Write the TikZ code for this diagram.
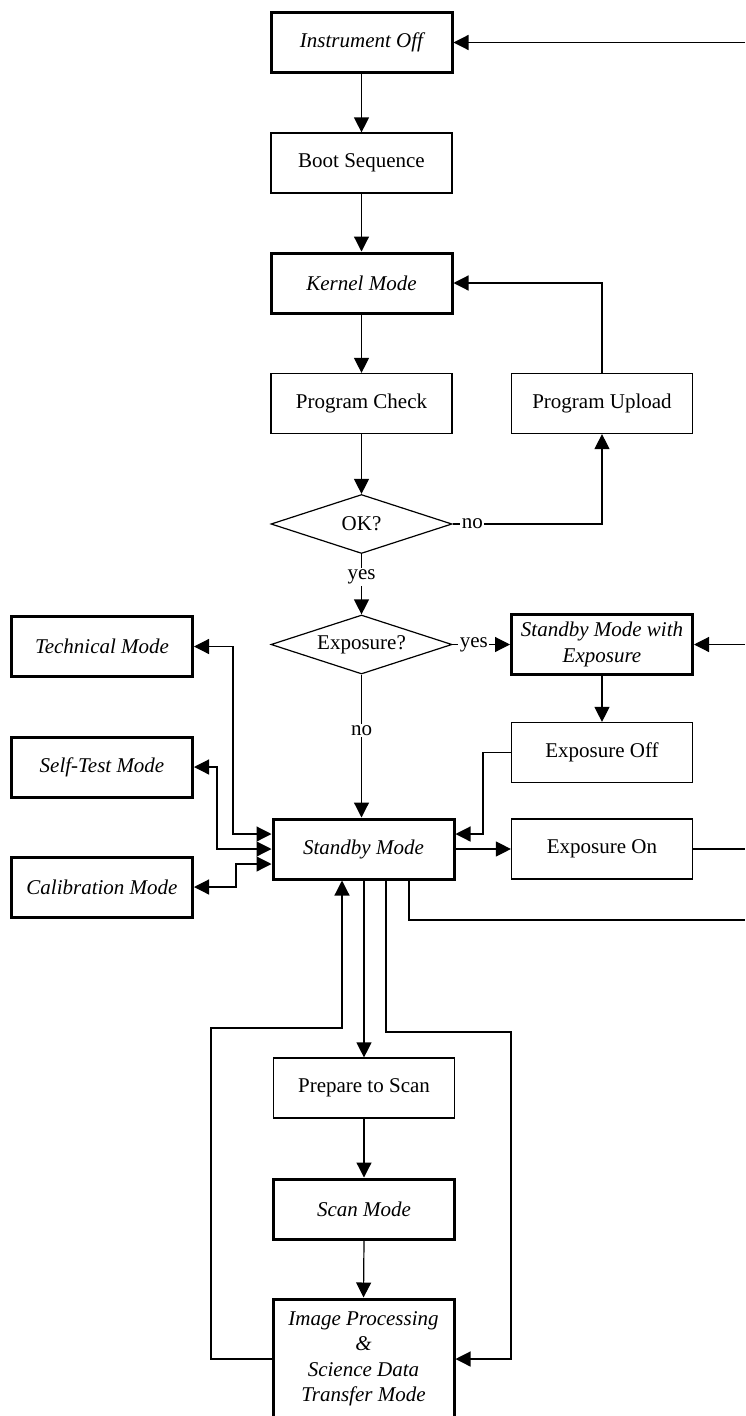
\documentclass[tikz,border=0pt]{standalone}
\usepackage{fontspec}
\setmainfont{Liberation Serif}
\usetikzlibrary{arrows.meta,shapes.geometric}
\begin{document}
\begin{tikzpicture}[x=1pt,y=-1pt,
  every node/.style={font=\fontsize{21}{25}\selectfont},
  box/.style={draw, line width=1.2pt, minimum width=181pt, minimum height=60pt, inner sep=0pt, align=center},
  mode/.style={box, line width=3pt, font=\fontsize{21}{25.5}\selectfont\itshape},
  dec/.style={draw, diamond, line width=1.2pt, minimum width=181pt, minimum height=59pt, inner sep=0pt},
  conn/.style={line width=1.2pt, -{Triangle[length=15pt,width=15pt]}},
  both/.style={line width=1.2pt, {Triangle[length=15pt,width=15pt]}-{Triangle[length=15pt,width=15pt]}},
  plain/.style={line width=1.2pt},
  lbl/.style={fill=white, inner sep=1.5pt}
]
\useasboundingbox (0,0) rectangle (745,1416);

% nodes
\node[mode] (off) at (361.5,42.5) {Instrument Off};
\node[box] (boot) at (361.5,163) {Boot Sequence};
\node[mode] (kernel) at (361.5,283) {Kernel Mode};
\node[box] (check) at (361.5,403.5) {Program Check};
\node[box] (upload) at (602,403.5) {Program Upload};
\node[dec] (ok) at (361.5,524) {\makebox[0pt]{OK?}};
\node[dec] (exp) at (361.5,644.5) {\makebox[0pt]{Exposure?}};
\node[mode] (sbe) at (602,644.5) {Standby Mode with\\Exposure};
\node[box] (eoff) at (602,752.5) {Exposure Off};
\node[box] (eon) at (602,849) {Exposure On};
\node[mode] (sb) at (363.5,849) {Standby Mode};
\node[mode] (tech) at (102,646.5) {Technical Mode};
\node[mode] (self) at (102,767) {Self-Test Mode};
\node[mode] (cal) at (102,887) {Calibration Mode};
\node[box] (prep) at (364,1088) {Prepare to Scan};
\node[mode] (scan) at (364,1209) {Scan Mode};
\node[mode, minimum height=120pt] (img) at (363.5,1359) {Image Processing\\\&\\Science Data\\Transfer Mode};

% helper coordinates
\coordinate (r1) at (745,42.5);
\coordinate (r2) at (745,644.5);
\coordinate (r3) at (745,849);
\coordinate (r4) at (745,920);
\coordinate (b1) at (409,920);
\coordinate (n1) at (602,524);
\coordinate (e1) at (483,752.5);
\coordinate (e2) at (483,834);
\coordinate (t1) at (233,834);
\coordinate (s1) at (217,849);
\coordinate (k1) at (236,864);
\coordinate (L1) at (342,1028);
\coordinate (L2) at (211,1028);
\coordinate (R1) at (386,1032);
\coordinate (R2) at (511,1032);

% main chain
\draw[conn] (r1) -- (off.east);
\draw[conn] (off.south) -- (boot.north);
\draw[conn] (boot.south) -- (kernel.north);
\draw[conn] (kernel.south) -- (check.north);
\draw[conn] (check.south) -- (ok.north);
\draw[conn] (ok.east) -- node[lbl, pos=0.133]{no} (n1) -- (upload.south);
\draw[conn] (upload.north) |- (kernel.east);
\draw[conn] (ok.south) -- node[lbl, pos=0.38]{yes} (exp.north);
\draw[conn] (exp.east) -- node[lbl, pos=0.37]{yes} (sbe.west);
\draw[conn] (r2) -- (sbe.east);
\draw[conn] (sbe.south) -- (eoff.north);
\draw[conn] (exp.south) -- node[lbl, pos=0.39]{no} (exp.south |- sb.north);
\draw[conn] (eoff.west) -- (e1) -- (e2) -- (sb.east |- e2);
\draw[conn] (sb.east) -- (eon.west);
\draw[plain] (eon.east) -- (r3);
\draw[plain] (b1 |- sb.south) -- (b1) -- (r4);

% side modes
\draw[both] (sb.west |- t1) -- (t1) |- (tech.east);
\draw[both] (sb.west |- s1) -- (s1) |- (self.east);
\draw[both] (sb.west |- k1) -- (k1) |- (cal.east);

% scan loop
\draw[conn] (img.west) -| (L2) -- (L1) -- (L1 |- sb.south);
\draw[conn] (prep.north |- sb.south) -- (prep.north);
\draw[conn] (R1 |- sb.south) -- (R1) -- (R2) |- (img.east);
\draw[conn] (prep.south) -- (scan.north);
\draw[conn] (scan.south) -- (img.north);
\end{tikzpicture}
\end{document}
